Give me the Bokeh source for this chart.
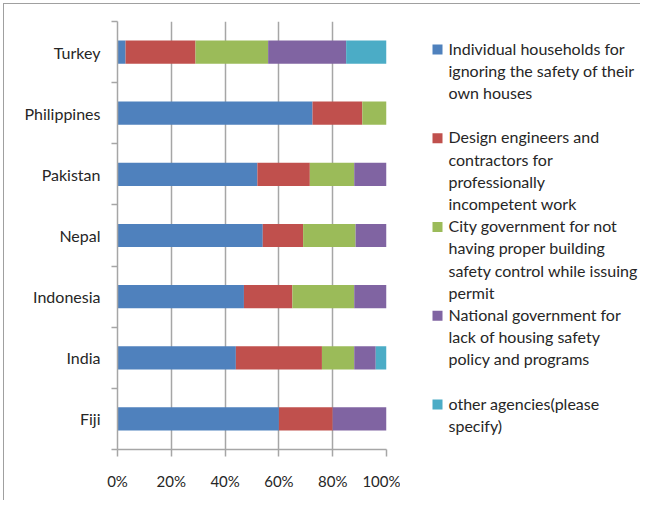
from bokeh.plotting import figure
from bokeh.layouts import row
from bokeh.models import Range1d, FixedTicker, PrintfTickFormatter, ColumnDataSource
from bokeh.core.properties import value
from bokeh.embed import file_html
from bokeh.resources import INLINE

# ---- data (bottom to top order of the axis) ----
countries = ["Fiji", "India", "Indonesia", "Nepal", "Pakistan", "Philippines", "Turkey"]
households = [60, 44, 47, 54, 52, 72.5, 3]
engineers = [20, 32, 18, 15, 19.5, 18.5, 26]
city_gov = [0, 12, 23, 19.5, 16.5, 9, 27]
national_gov = [20, 8, 12, 11.5, 12, 0, 29]
other = [0, 4, 0, 0, 0, 0, 15]
series_names = [
    "Individual households for\nignoring the safety of their\nown houses",
    "Design engineers and\ncontractors for\nprofessionally\nincompetent work",
    "City government for not\nhaving proper building\nsafety control while issuing\npermit",
    "National government for\nlack of housing safety\npolicy and programs",
    "other agencies(please\nspecify)",
]
colors = ["#4F81BD", "#C0504D", "#9BBB59", "#8064A2", "#4BACC6"]
x_ticks = [0, 20, 40, 60, 80, 100]

FONT = "Lato"
TXT = "#262626"
GRID = "#a6a6a6"

ypos = [i + 0.5 for i in range(len(countries))]
data = dict(y=ypos, s0=households, s1=engineers, s2=city_gov, s3=national_gov, s4=other)

FRAME_TOP, FRAME_BOTTOM = 21, 449   # page pixels of the plot frame

p = figure(width=396, height=496, output_backend="svg", toolbar_location=None,
           x_range=Range1d(0, 100), y_range=Range1d(0, len(countries)),
           min_border_left=113, min_border_top=17, min_border_right=14,
           min_border_bottom=51)
p.outline_line_color = None

renderers = p.hbar_stack(["s0", "s1", "s2", "s3", "s4"], y="y", height=0.38,
                         color=colors, line_color=None, source=data)

# x axis
p.xaxis.ticker = FixedTicker(ticks=x_ticks)
p.xaxis.formatter = PrintfTickFormatter(format="%d%%")
p.xaxis.axis_line_color = GRID
p.xaxis.axis_line_width = 1.5
p.xaxis.major_tick_line_color = GRID
p.xaxis.major_tick_line_width = 1.5
p.xaxis.major_tick_out = 7
p.xaxis.major_tick_in = 0
p.xaxis.minor_tick_line_color = None
p.xaxis.major_label_standoff = 15
p.xaxis.major_label_text_font = FONT
p.xaxis.major_label_text_font_size = "15px"
p.xaxis.major_label_text_color = TXT

# y axis
p.yaxis.ticker = FixedTicker(ticks=ypos, minor_ticks=list(range(len(countries) + 1)))
p.yaxis.major_label_overrides = {y: c for y, c in zip(ypos, countries)}
p.yaxis.axis_line_color = GRID
p.yaxis.axis_line_width = 1.5
p.yaxis.major_tick_line_color = None
p.yaxis.major_tick_out = 0
p.yaxis.major_tick_in = 0
p.yaxis.minor_tick_line_color = GRID
p.yaxis.minor_tick_line_width = 1.5
p.yaxis.minor_tick_out = 6
p.yaxis.minor_tick_in = 0
p.yaxis.major_label_standoff = 11
p.yaxis.major_label_text_font = FONT
p.yaxis.major_label_text_font_size = "16px"
p.yaxis.major_label_text_color = TXT

p.xgrid.grid_line_color = GRID
p.xgrid.grid_line_width = 1.5
p.xgrid.ticker = FixedTicker(ticks=x_ticks)
p.ygrid.grid_line_color = None

# ---- legend panel (coordinates are page pixels; its frame is aligned to the main frame) ----
lx0, lw, lh = 400, 240, 496
item_top = 49
item_step = 88.75
leg = ColumnDataSource(dict(
    gx=[437] * len(series_names),
    tx=[448] * len(series_names),
    y=[item_top + i * item_step for i in range(len(series_names))],
    ty=[item_top + i * item_step - 11 for i in range(len(series_names))],
    color=colors, label=series_names))
pl = figure(width=lw, height=lh, output_backend="svg", toolbar_location=None,
            x_range=Range1d(lx0, lx0 + lw), y_range=Range1d(FRAME_BOTTOM, FRAME_TOP),
            x_axis_type=None, y_axis_type=None, min_border=0)
pl.grid.visible = False
pl.outline_line_color = None
pl.scatter(x="gx", y="y", marker="square", size=10, color="color",
           line_color=None, source=leg)
pl.text(x="tx", y="ty", text="label", source=leg, text_font=value(FONT),
        text_font_size="16px", text_color=TXT, text_baseline="top",
        text_align="left", text_line_height=1.175)

layout = row(p, pl)
layout.styles = {"margin-left": "3px", "margin-top": "3px",
                 "border-left": "1px solid #a0a0a0", "border-top": "1px solid #a0a0a0"}

open("out.html", "w").write(file_html(layout, INLINE))
